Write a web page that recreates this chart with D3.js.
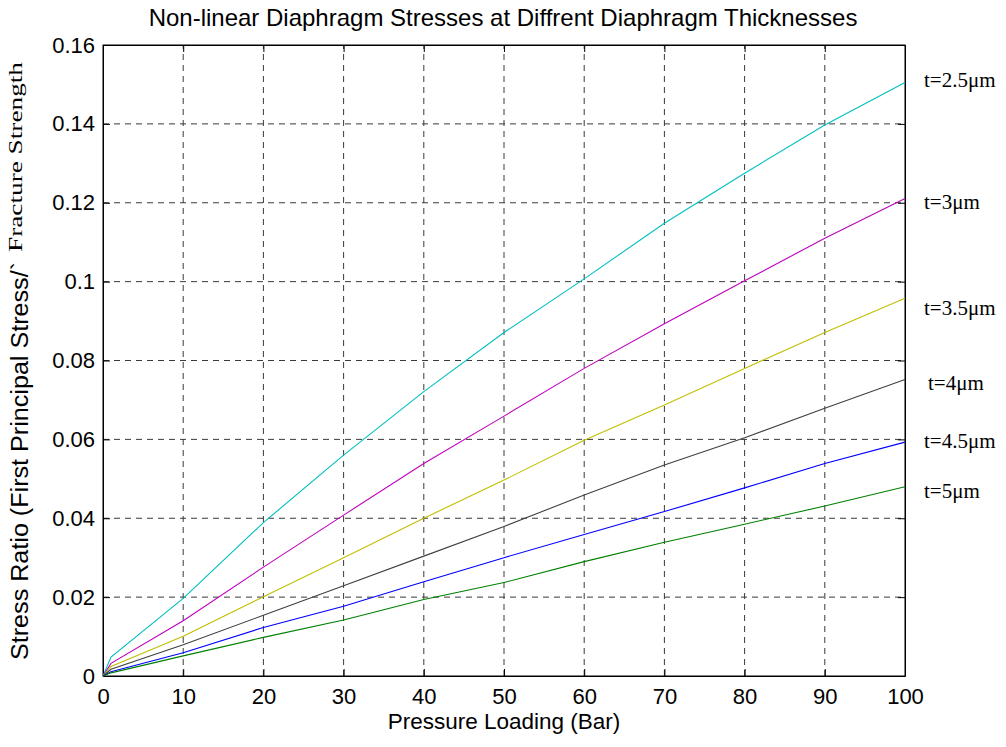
<!DOCTYPE html>
<html>
<head>
<meta charset="utf-8">
<script src="https://cdn.jsdelivr.net/npm/d3@7"></script>
<style>
  body { margin: 0; background: #fff; }
  svg text { fill: #000; }
</style>
</head>
<body>
<svg id="chart" width="1006" height="747"></svg>
<script>
// pressure loading (bar)
const pressure = [0, 1, 10, 20, 30, 40, 50, 60, 70, 80, 90, 100];

// stress ratio per diaphragm thickness
const t25 = [0, 0.0048, 0.0197, 0.0389, 0.0560, 0.0721, 0.0871, 0.1007, 0.1148, 0.1275, 0.1397, 0.1505];
const t30 = [0, 0.0032, 0.0140, 0.0276, 0.0408, 0.0539, 0.0659, 0.0780, 0.0893, 0.1002, 0.1110, 0.1211];
const t35 = [0, 0.0024, 0.0101, 0.0201, 0.0300, 0.0400, 0.0497, 0.0598, 0.0687, 0.0780, 0.0871, 0.0958];
const t40 = [0, 0.0017, 0.0079, 0.0154, 0.0229, 0.0304, 0.0379, 0.0459, 0.0535, 0.0604, 0.0679, 0.0752];
const t45 = [0, 0.0011, 0.0059, 0.0123, 0.0177, 0.0239, 0.0300, 0.0359, 0.0417, 0.0477, 0.0539, 0.0593];
const t50 = [0, 0.0008, 0.0051, 0.0098, 0.0142, 0.0194, 0.0237, 0.0290, 0.0339, 0.0385, 0.0431, 0.0480];

const seriesNames = ["t=2.5μm", "t=3μm", "t=3.5μm", "t=4μm", "t=4.5μm", "t=5μm"];
const seriesColors = ["#00bfbf", "#bf00bf", "#bfbf00", "#404040", "#0000ff", "#008000"];
// label positions (data units) as placed in the figure
const labelY = [0.1511, 0.1204, 0.0933, 0.0743, 0.0598, 0.0469];
const labelDx = [0, 0, 0, 4, 0, 0];

const xTicks = d3.range(0, 101, 10);
const yTicks = [0, 0.02, 0.04, 0.06, 0.08, 0.1, 0.12, 0.14, 0.16];

const series = [t25, t30, t35, t40, t45, t50];

const margin = {left: 103, right: 101, top: 45, bottom: 71};
const width = 1006, height = 747;
const sans = "Liberation Sans, Arial, sans-serif";
const serif = "Liberation Serif, Times New Roman, serif";

const x = d3.scaleLinear().domain([0, 100]).range([margin.left, width - margin.right]);
const y = d3.scaleLinear().domain([0, 0.16]).range([height - margin.bottom, margin.top]);

const svg = d3.select("#chart");

// grid
svg.append("g")
  .selectAll("line")
  .data(xTicks.slice(1, -1))
  .enter()
  .append("line")
  .attr("x1", d => x(d)).attr("x2", d => x(d))
  .attr("y1", y(0)).attr("y2", y(0.16))
  .attr("stroke", "#3a3a3a")
  .attr("stroke-dasharray", "6,5");

svg.append("g")
  .selectAll("line")
  .data(yTicks.slice(1, -1))
  .enter()
  .append("line")
  .attr("y1", d => y(d)).attr("y2", d => y(d))
  .attr("x1", x(0)).attr("x2", x(100))
  .attr("stroke", "#3a3a3a")
  .attr("stroke-dasharray", "6,5");

// axes, ticks pointing inward on all four sides
const tickLen = 7;
svg.append("g")
  .attr("transform", `translate(0,${y(0)})`)
  .call(d3.axisBottom(x).tickValues(xTicks).tickSizeInner(-tickLen).tickSizeOuter(0).tickPadding(12));
svg.append("g")
  .attr("transform", `translate(${x(0)},0)`)
  .call(d3.axisLeft(y).tickValues(yTicks).tickSizeInner(-tickLen).tickSizeOuter(0).tickPadding(8)
    .tickFormat(d => d === 0 ? "0" : String(+d.toFixed(2))));
svg.append("g")
  .attr("transform", `translate(0,${y(0.16)})`)
  .call(d3.axisTop(x).tickValues(xTicks).tickSizeInner(-tickLen).tickSizeOuter(0).tickFormat(""));
svg.append("g")
  .attr("transform", `translate(${x(100)},0)`)
  .call(d3.axisRight(y).tickValues(yTicks).tickSizeInner(-tickLen).tickSizeOuter(0).tickFormat(""));

svg.selectAll(".domain").attr("stroke", "#000");
svg.selectAll(".tick line").attr("stroke", "#000");
svg.selectAll(".tick text")
  .attr("font-family", sans)
  .attr("font-size", 22)
  .attr("fill", "#000");

// box
svg.append("rect")
  .attr("x", x(0)).attr("y", y(0.16))
  .attr("width", x(100) - x(0)).attr("height", y(0) - y(0.16))
  .attr("fill", "none").attr("stroke", "#000");

// lines
const line = d3.line()
  .x((d, i) => x(pressure[i]))
  .y(d => y(d));

svg.append("g")
  .selectAll("path")
  .data(series)
  .enter()
  .append("path")
  .attr("d", line)
  .attr("fill", "none")
  .attr("stroke", (d, i) => seriesColors[i])
  .attr("stroke-width", 1.1);

// series labels
svg.append("g")
  .selectAll("text")
  .data(seriesNames)
  .enter()
  .append("text")
  .attr("x", (d, i) => x(100) + 19 + labelDx[i])
  .attr("y", (d, i) => y(labelY[i]))
  .attr("dy", "0.35em")
  .attr("font-family", serif)
  .attr("font-size", 21)
  .text(d => d);

// title
svg.append("text")
  .attr("x", 503)
  .attr("y", 26)
  .attr("text-anchor", "middle")
  .attr("font-family", sans)
  .attr("font-size", 24)
  .text("Non-linear Diaphragm Stresses at Diffrent Diaphragm Thicknesses");

// x label
svg.append("text")
  .attr("x", (x(0) + x(100)) / 2)
  .attr("y", 729)
  .attr("text-anchor", "middle")
  .attr("font-family", sans)
  .attr("font-size", 22.5)
  .text("Pressure Loading (Bar)");

// y label: sans part then raised serif part
svg.append("text")
  .attr("transform", "translate(28,660) rotate(-90)")
  .attr("font-family", sans)
  .attr("font-size", 23.5)
  .attr("textLength", 398)
  .attr("lengthAdjust", "spacingAndGlyphs")
  .text("Stress Ratio (First Principal Stress/`");
svg.append("text")
  .attr("transform", "translate(22,252) rotate(-90)")
  .attr("font-family", serif)
  .attr("font-size", 18)
  .attr("textLength", 190)
  .attr("lengthAdjust", "spacingAndGlyphs")
  .text("Fracture Strength");
</script>
</body>
</html>
